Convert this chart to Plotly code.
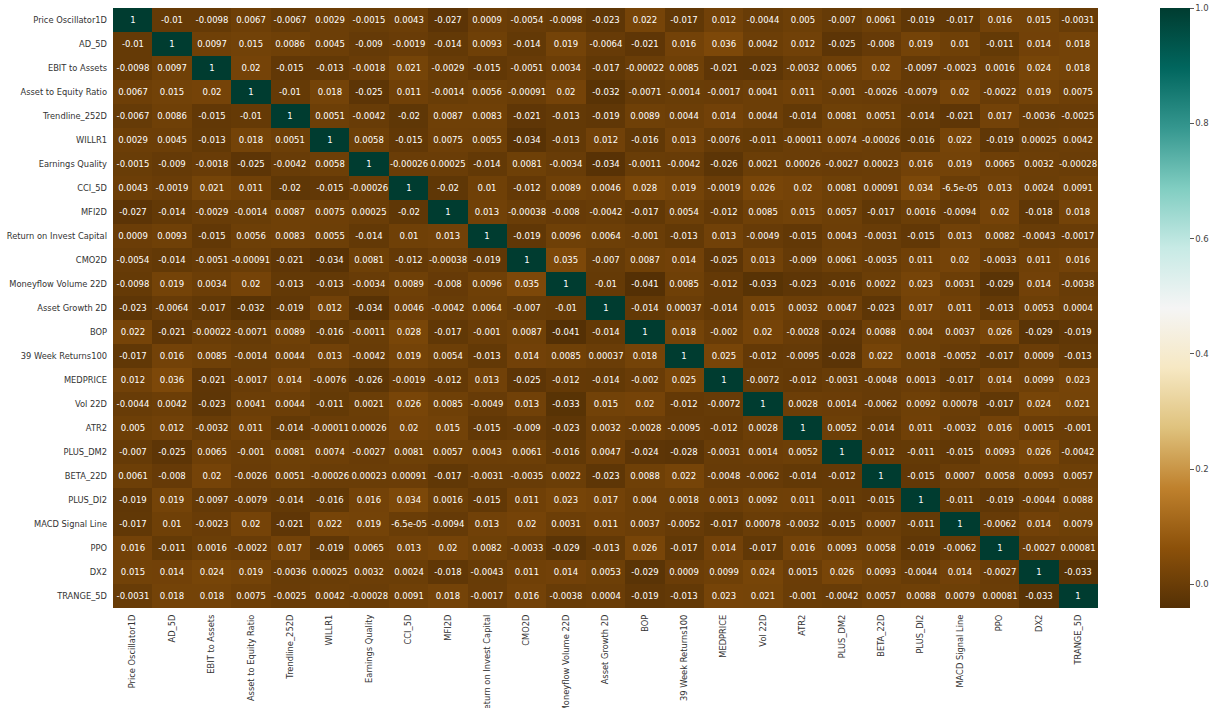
import numpy as np
import plotly.graph_objects as go

# Feature names (rows top-to-bottom, columns left-to-right)
labels = [
    "Price Oscillator1D", "AD_5D", "EBIT to Assets", "Asset to Equity Ratio",
    "Trendline_252D", "WILLR1", "Earnings Quality", "CCI_5D", "MFI2D",
    "Return on Invest Capital", "CMO2D", "Moneyflow Volume 22D", "Asset Growth 2D",
    "BOP", "39 Week Returns100", "MEDPRICE", "Vol 22D", "ATR2", "PLUS_DM2",
    "BETA_22D", "PLUS_DI2", "MACD Signal Line", "PPO", "DX2", "TRANGE_5D",
]

# Upper triangle of the correlation matrix: row i holds columns i+1 .. end
upper = [
    [-0.01, -0.0098, 0.0067, -0.0067, 0.0029, -0.0015, 0.0043, -0.027, 0.0009, -0.0054, -0.0098, -0.023, 0.022, -0.017, 0.012, -0.0044, 0.005, -0.007, 0.0061, -0.019, -0.017, 0.016, 0.015, -0.0031],
    [0.0097, 0.015, 0.0086, 0.0045, -0.009, -0.0019, -0.014, 0.0093, -0.014, 0.019, -0.0064, -0.021, 0.016, 0.036, 0.0042, 0.012, -0.025, -0.008, 0.019, 0.01, -0.011, 0.014, 0.018],
    [0.02, -0.015, -0.013, -0.0018, 0.021, -0.0029, -0.015, -0.0051, 0.0034, -0.017, -0.00022, 0.0085, -0.021, -0.023, -0.0032, 0.0065, 0.02, -0.0097, -0.0023, 0.0016, 0.024, 0.018],
    [-0.01, 0.018, -0.025, 0.011, -0.0014, 0.0056, -0.00091, 0.02, -0.032, -0.0071, -0.0014, -0.0017, 0.0041, 0.011, -0.001, -0.0026, -0.0079, 0.02, -0.0022, 0.019, 0.0075],
    [0.0051, -0.0042, -0.02, 0.0087, 0.0083, -0.021, -0.013, -0.019, 0.0089, 0.0044, 0.014, 0.0044, -0.014, 0.0081, 0.0051, -0.014, -0.021, 0.017, -0.0036, -0.0025],
    [0.0058, -0.015, 0.0075, 0.0055, -0.034, -0.013, 0.012, -0.016, 0.013, -0.0076, -0.011, -0.00011, 0.0074, -0.00026, -0.016, 0.022, -0.019, 0.00025, 0.0042],
    [-0.00026, 0.00025, -0.014, 0.0081, -0.0034, -0.034, -0.0011, -0.0042, -0.026, 0.0021, 0.00026, -0.0027, 0.00023, 0.016, 0.019, 0.0065, 0.0032, -0.00028],
    [-0.02, 0.01, -0.012, 0.0089, 0.0046, 0.028, 0.019, -0.0019, 0.026, 0.02, 0.0081, 0.00091, 0.034, -6.5e-05, 0.013, 0.0024, 0.0091],
    [0.013, -0.00038, -0.008, -0.0042, -0.017, 0.0054, -0.012, 0.0085, 0.015, 0.0057, -0.017, 0.0016, -0.0094, 0.02, -0.018, 0.018],
    [-0.019, 0.0096, 0.0064, -0.001, -0.013, 0.013, -0.0049, -0.015, 0.0043, -0.0031, -0.015, 0.013, 0.0082, -0.0043, -0.0017],
    [0.035, -0.007, 0.0087, 0.014, -0.025, 0.013, -0.009, 0.0061, -0.0035, 0.011, 0.02, -0.0033, 0.011, 0.016],
    [-0.01, -0.041, 0.0085, -0.012, -0.033, -0.023, -0.016, 0.0022, 0.023, 0.0031, -0.029, 0.014, -0.0038],
    [-0.014, 0.00037, -0.014, 0.015, 0.0032, 0.0047, -0.023, 0.017, 0.011, -0.013, 0.0053, 0.0004],
    [0.018, -0.002, 0.02, -0.0028, -0.024, 0.0088, 0.004, 0.0037, 0.026, -0.029, -0.019],
    [0.025, -0.012, -0.0095, -0.028, 0.022, 0.0018, -0.0052, -0.017, 0.0009, -0.013],
    [-0.0072, -0.012, -0.0031, -0.0048, 0.0013, -0.017, 0.014, 0.0099, 0.023],
    [0.0028, 0.0014, -0.0062, 0.0092, 0.00078, -0.017, 0.024, 0.021],
    [0.0052, -0.014, 0.011, -0.0032, 0.016, 0.0015, -0.001],
    [-0.012, -0.011, -0.015, 0.0093, 0.026, -0.0042],
    [-0.015, 0.0007, 0.0058, 0.0093, 0.0057],
    [-0.011, -0.019, -0.0044, 0.0088],
    [-0.0062, 0.014, 0.0079],
    [-0.0027, 0.00081],
    [-0.033],
]

colorbar_ticks = [0.0, 0.2, 0.4, 0.6, 0.8, 1.0]

# Build the symmetric matrix with a unit diagonal
n = len(labels)
corr = np.eye(n)
for i, row in enumerate(upper):
    for k, v in enumerate(row):
        j = i + 1 + k
        corr[i, j] = v
        corr[j, i] = v

text = [[format(v, ".2g") for v in row] for row in corr]

# Brown-to-teal diverging palette
brbg = ["#543005", "#8c510a", "#bf812d", "#dfc27d", "#f6e8c3", "#f5f5f5",
        "#c7eae5", "#80cdc1", "#35978f", "#01665e", "#003c30"]
colorscale = [[k / (len(brbg) - 1), c] for k, c in enumerate(brbg)]

font_family = "DejaVu Sans"

fig = go.Figure(
    go.Heatmap(
        z=corr,
        x=labels,
        y=labels,
        text=text,
        texttemplate="%{text}",
        textfont=dict(family=font_family, size=8.5, color="#ffffff"),
        colorscale=colorscale,
        zmin=corr.min(),
        zmax=1.0,
        xgap=0,
        ygap=0,
        hoverinfo="skip",
        colorbar=dict(
            x=(1160 - 113) / 985,
            xanchor="left",
            xpad=0,
            y=0.5,
            yanchor="middle",
            len=1.0,
            lenmode="fraction",
            ypad=0,
            thickness=30,
            outlinewidth=0,
            ticks="outside",
            ticklen=4,
            tickwidth=1,
            tickcolor="#555555",
            tickvals=colorbar_ticks,
            ticktext=[f"{t:.1f}" for t in colorbar_ticks],
            tickfont=dict(family=font_family, size=8.5, color="#444444"),
        ),
    )
)

fig.update_layout(
    width=1223,
    height=708,
    margin=dict(l=113, r=125, t=8, b=100, autoexpand=False),
    paper_bgcolor="white",
    plot_bgcolor="white",
    font=dict(family=font_family, size=8.3, color="#333333"),
)

fig.update_xaxes(
    type="category",
    tickangle=-90,
    ticks="",
    showgrid=False,
    zeroline=False,
    showline=False,
    automargin=False,
    tickfont=dict(family=font_family, size=8.3, color="#333333"),
    ticklabelstandoff=4,
)
fig.update_yaxes(
    type="category",
    autorange="reversed",
    ticks="",
    showgrid=False,
    zeroline=False,
    showline=False,
    automargin=False,
    tickfont=dict(family=font_family, size=8.3, color="#333333"),
    ticklabelstandoff=5,
)

fig.write_html("out.html")
